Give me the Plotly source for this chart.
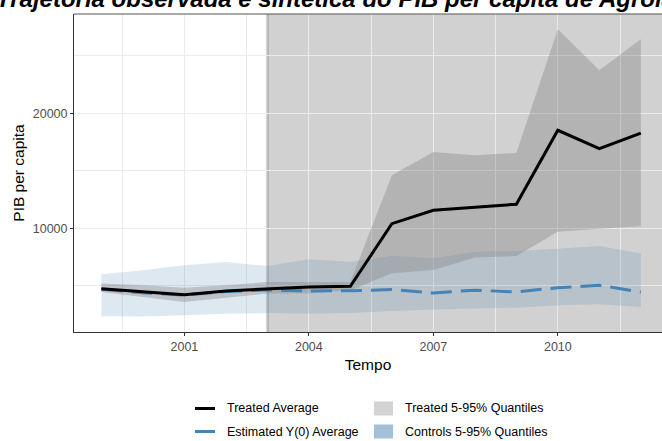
import plotly.graph_objects as go

# ---- data -----------------------------------------------------------------
years = list(range(1999, 2013))
treated_avg = [4750, 4460, 4230, 4550, 4700, 4900, 4950, 10400, 11570, 11850, 12090, 18520, 16930, 18280]
estimated_y0 = [4700, 4400, 4200, 4500, 4650, 4550, 4570, 4670, 4380, 4620, 4460, 4840, 5040, 4460]
treated_q05 = [4460, 4030, 3590, 3970, 4320, 4350, 4620, 6100, 6380, 7450, 7600, 9700, 9970, 10170]
treated_q95 = [5190, 5040, 4840, 5040, 5330, 5330, 5330, 14610, 16640, 16350, 16550, 27300, 23740, 26440]
controls_q05 = [2350, 2330, 2430, 2580, 2640, 2600, 2640, 2810, 2930, 3020, 3100, 3300, 3390, 3160]
controls_q95 = [6000, 6350, 6780, 7070, 6720, 7300, 7100, 7600, 7400, 7950, 8030, 8230, 8460, 7800]
treatment_year = 2003

x_ticks = [2001, 2004, 2007, 2010]
x_minor = [1999.5, 2002.5, 2005.5, 2008.5, 2011.5]
y_ticks = [10000, 20000]
y_minor = [5000, 15000, 25000]

legend_labels = ["Treated Average", "Estimated Y(0) Average",
                 "Treated 5-95% Quantiles", "Controls 5-95% Quantiles"]
title_text = "Trajetória observada e sintética do PIB per capita de Agrolândia"

# ---- styling --------------------------------------------------------------
FONT = "Liberation Sans, Arial, sans-serif"
STEEL = "rgb(70,130,180)"
W, H = 662, 441
ML, MT, MB = 74, 14, 109
PW, PH = W - ML, H - MT - MB
X_RANGE = [1998.34, 2012.51]
Y_RANGE = [983, 28630]


def px_x(px):
    return (px - ML) / PW


def px_y(py):
    return (MT + PH - py) / PH


def band(lo, hi):
    return years + years[::-1], hi + lo[::-1]


fig = go.Figure()

bx, by = band(controls_q05, controls_q95)
fig.add_trace(go.Scatter(x=bx, y=by, fill="toself", mode="none",
                         fillcolor="rgba(70,130,180,0.18)", showlegend=False,
                         hoverinfo="skip"))
bx, by = band(treated_q05, treated_q95)
fig.add_trace(go.Scatter(x=bx, y=by, fill="toself", mode="none",
                         fillcolor="rgba(128,128,128,0.36)", showlegend=False,
                         hoverinfo="skip"))
fig.add_trace(go.Scatter(x=years, y=estimated_y0, mode="lines",
                         line=dict(color=STEEL, width=3, dash="21px,9px"),
                         showlegend=False))
fig.add_trace(go.Scatter(x=years, y=treated_avg, mode="lines",
                         line=dict(color="black", width=3), showlegend=False))

shapes = [
    # post-treatment period shading
    dict(type="rect", xref="x", yref="paper", x0=treatment_year, x1=X_RANGE[1],
         y0=0, y1=1, fillcolor="rgba(0,0,0,0.18)", line_width=0, layer="between"),
    dict(type="line", xref="x", yref="paper", x0=treatment_year, x1=treatment_year,
         y0=0, y1=1, line=dict(color="rgba(0,0,0,0.16)", width=3), layer="between"),
    # panel border (top)
    dict(type="line", xref="paper", yref="paper", x0=0, x1=1, y0=1, y1=1,
         line=dict(color="#555555", width=1)),
]

# legend keys
row1, row2 = 408.5, 431.5
shapes += [
    dict(type="line", xref="paper", yref="paper", x0=px_x(195), x1=px_x(215),
         y0=px_y(row1), y1=px_y(row1), line=dict(color="black", width=3)),
    dict(type="line", xref="paper", yref="paper", x0=px_x(195), x1=px_x(215),
         y0=px_y(row2), y1=px_y(row2), line=dict(color=STEEL, width=3)),
    dict(type="rect", xref="paper", yref="paper", x0=px_x(374), x1=px_x(393),
         y0=px_y(row1 + 7), y1=px_y(row1 - 7), fillcolor="rgb(211,211,211)", line_width=0),
    dict(type="rect", xref="paper", yref="paper", x0=px_x(374), x1=px_x(393),
         y0=px_y(row2 + 7), y1=px_y(row2 - 7), fillcolor="rgb(163,192,217)", line_width=0),
]

annotations = [
    dict(text="<b><i>" + title_text + "</i></b>", xref="paper", yref="paper",
         x=px_x(-6), y=1, xanchor="left", yanchor="bottom", showarrow=False,
         font=dict(family=FONT, size=24, color="black")),
]
for lbl, px, py in zip(legend_labels, [225, 225, 403, 403], [row1, row2, row1, row2]):
    annotations.append(dict(text=lbl, xref="paper", yref="paper", x=px_x(px), y=px_y(py),
                            xanchor="left", yanchor="middle", showarrow=False,
                            font=dict(family=FONT, size=12.5, color="black")))

grid = "rgb(235,235,235)"
fig.update_layout(
    width=W, height=H,
    margin=dict(l=ML, r=0, t=MT, b=MB, pad=0),
    paper_bgcolor="white", plot_bgcolor="white",
    font=dict(family=FONT),
    shapes=shapes, annotations=annotations,
    xaxis=dict(range=X_RANGE, tickvals=x_ticks, ticks="outside", ticklen=3,
               tickcolor="#333333", tickfont=dict(size=12.5, color="#4d4d4d"),
               showgrid=True, gridcolor=grid, gridwidth=1.3, zeroline=False,
               showline=True, linecolor="#333333", linewidth=1,
               minor=dict(tickvals=x_minor, showgrid=True, gridcolor=grid, gridwidth=0.8, ticks=""),
               title=dict(text="Tempo", font=dict(size=15.5, color="black"), standoff=6)),
    yaxis=dict(range=Y_RANGE, tickvals=y_ticks, tickformat="d", ticks="outside", ticklen=3,
               tickcolor="#333333", tickfont=dict(size=12.5, color="#4d4d4d"),
               showgrid=True, gridcolor=grid, gridwidth=1.3, zeroline=False,
               showline=True, linecolor="#333333", linewidth=1,
               minor=dict(tickvals=y_minor, showgrid=True, gridcolor=grid, gridwidth=0.8, ticks=""),
               title=dict(text="PIB per capita", font=dict(size=15.5, color="black"), standoff=4)),
)

fig.write_html("out.html")
